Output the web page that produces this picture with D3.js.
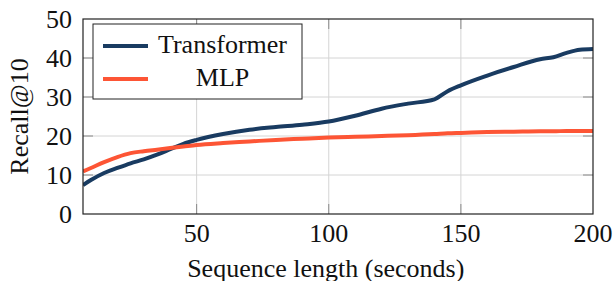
<!DOCTYPE html>
<html>
<head>
<meta charset="utf-8">
<script src="https://cdn.jsdelivr.net/npm/d3@7"></script>
<style>
  body { margin: 0; background: #fff; }
</style>
</head>
<body>
<div id="chart"></div>
<script>
// 数据
var seqLength = [7, 10, 15, 20, 25, 30, 35, 40, 45, 50, 60, 70, 80, 90, 100, 110, 120, 130, 140, 145, 150, 160, 170, 180, 185, 190, 195, 200]
var transformer = [7.4, 8.7, 10.5, 11.8, 13, 14, 15.2, 16.6, 18, 19, 20.5, 21.6, 22.3, 22.9, 23.7, 25.2, 27, 28.3, 29.4, 31.5, 33, 35.5, 37.7, 39.7, 40.2, 41.3, 42.1, 42.3]
var mlp = [10.9, 11.8, 13.3, 14.6, 15.6, 16.1, 16.5, 16.9, 17.3, 17.7, 18.2, 18.6, 19, 19.3, 19.6, 19.8, 20, 20.2, 20.5, 20.7, 20.8, 21, 21.1, 21.2, 21.2, 21.3, 21.3, 21.3]
var xTicks = [50, 100, 150, 200]
var yTicks = [0, 10, 20, 30, 40, 50]
var seriesNames = ['Transformer', 'MLP']
var colors = ['#193b61', '#fd5535']

/**
 * 常量
 */
var width = 614
var height = 281
var margin = { top: 19, right: 21, bottom: 67, left: 83 }
var innerW = width - margin.left - margin.right
var innerH = height - margin.top - margin.bottom
var tickLen = 10
var fontFamily = '"Times New Roman", "Nimbus Roman", FreeSerif, "Liberation Serif", serif'

// 统一文字样式
function serif(sel) {
  return sel
    .style('font-family', fontFamily)
    .attr('font-size', '26px')
    .attr('fill', '#111')
}

/**
 * 比例尺
 */
var x = d3.scaleLinear().domain([7, 200]).range([0, innerW])
var y = d3.scaleLinear().domain([0, 50]).range([innerH, 0])

var svg = d3.select('#chart')
  .append('svg')
  .attr('width', width)
  .attr('height', height)

var g = svg.append('g')
  .attr('transform', `translate(${margin.left}, ${margin.top})`)

// 网格
g.append('g')
  .selectAll('line')
  .data(xTicks.filter(d => d < 200))
  .enter()
  .append('line')
  .attr('x1', d => x(d)).attr('x2', d => x(d))
  .attr('y1', 0).attr('y2', innerH)
  .attr('stroke', '#d4d4d4')

g.append('g')
  .selectAll('line')
  .data(yTicks.filter(d => d > 0 && d < 50))
  .enter()
  .append('line')
  .attr('x1', 0).attr('x2', innerW)
  .attr('y1', d => y(d)).attr('y2', d => y(d))
  .attr('stroke', '#d4d4d4')

// 刻度线（内侧，上下左右）
var tickG = g.append('g').attr('stroke', '#8a8a8a')
yTicks.filter(d => d > 0 && d < 50).forEach(d => {
  tickG.append('line').attr('x1', 0).attr('x2', tickLen).attr('y1', y(d)).attr('y2', y(d))
  tickG.append('line').attr('x1', innerW - tickLen).attr('x2', innerW).attr('y1', y(d)).attr('y2', y(d))
})
xTicks.filter(d => d < 200).forEach(d => {
  tickG.append('line').attr('x1', x(d)).attr('x2', x(d)).attr('y1', innerH).attr('y2', innerH - tickLen)
  tickG.append('line').attr('x1', x(d)).attr('x2', x(d)).attr('y1', 0).attr('y2', tickLen)
})

// 刻度文字
g.append('g')
  .selectAll('text')
  .data(xTicks)
  .enter()
  .append('text')
  .attr('x', d => x(d))
  .attr('y', innerH + 28)
  .attr('text-anchor', 'middle')
  .call(serif)
  .text(d => d)

g.append('g')
  .selectAll('text')
  .data(yTicks)
  .enter()
  .append('text')
  .attr('x', -11)
  .attr('y', d => y(d) + 9)
  .attr('text-anchor', 'end')
  .call(serif)
  .text(d => d)

// 折线
var line = d3.line()
  .x((d, i) => x(seqLength[i]))
  .y(d => y(d))
  .curve(d3.curveMonotoneX)

g.append('defs').append('clipPath').attr('id', 'clip')
  .append('rect').attr('width', innerW).attr('height', innerH)

var lineG = g.append('g').attr('clip-path', 'url(#clip)')
;[transformer, mlp].forEach((s, i) => {
  lineG.append('path')
    .attr('d', line(s))
    .attr('fill', 'none')
    .attr('stroke', colors[i])
    .attr('stroke-width', 4)
    .attr('stroke-linejoin', 'round')
})

// 边框
g.append('rect')
  .attr('width', innerW)
  .attr('height', innerH)
  .attr('fill', 'none')
  .attr('stroke', '#222')
  .attr('stroke-width', 1.2)

// 图例
var legend = g.append('g').attr('transform', 'translate(10, 5)')
legend.append('rect')
  .attr('width', 209)
  .attr('height', 75)
  .attr('fill', '#fff')
  .attr('stroke', '#222')
  .attr('stroke-width', 1)

seriesNames.forEach((name, i) => {
  legend.append('line')
    .attr('x1', 10).attr('x2', 55)
    .attr('y1', 22 + i * 33).attr('y2', 22 + i * 33)
    .attr('stroke', colors[i])
    .attr('stroke-width', 4)
  legend.append('text')
    .attr('x', 129.5)
    .attr('y', 29 + i * 33)
    .attr('text-anchor', 'middle')
    .call(serif)
    .text(name)
})

// 轴标题
svg.append('text')
  .attr('x', margin.left + x(100) - 3)
  .attr('y', 277)
  .attr('text-anchor', 'middle')
  .call(serif)
  .text('Sequence length (seconds)')

svg.append('text')
  .attr('transform', `translate(28, ${margin.top + innerH / 2}) rotate(-90)`)
  .attr('text-anchor', 'middle')
  .call(serif)
  .text('Recall@10')
</script>
</body>
</html>
